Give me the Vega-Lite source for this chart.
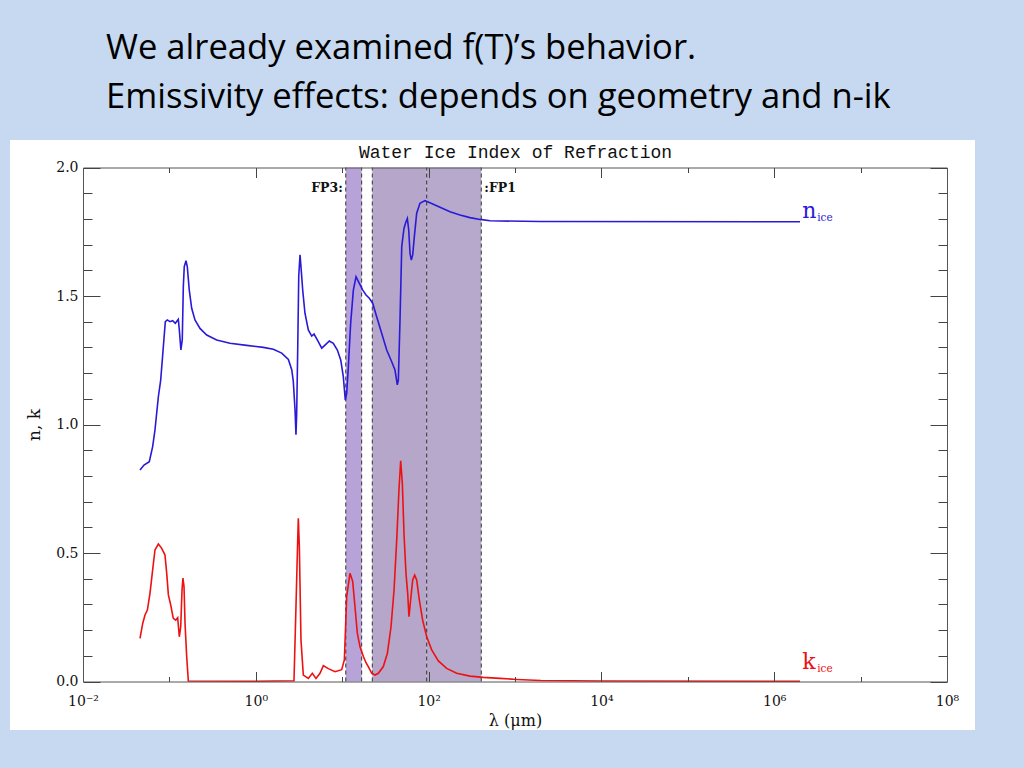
{
  "$schema": "https://vega.github.io/schema/vega-lite/v6.json",
  "width": 965,
  "height": 590,
  "autosize": "none",
  "padding": {"left": 10, "top": 140, "right": 49, "bottom": 38},
  "background": "#c6d9f1",
  "title": {
    "text": ["We already examined f(T)’s behavior.", "Emissivity effects: depends on geometry and n-ik"],
    "anchor": "start",
    "frame": "group",
    "orient": "top",
    "dx": 96,
    "offset": 24,
    "font": "Open Sans",
    "fontSize": 34.6,
    "fontWeight": "normal",
    "color": "#000000",
    "lineHeight": 49
  },
  "config": {
    "view": {"fill": "white", "stroke": null},
    "axis": {
      "grid": false,
      "labelFont": "DejaVu Serif",
      "titleFont": "DejaVu Serif",
      "labelColor": "#111111",
      "titleColor": "#111111",
      "titleFontWeight": "normal",
      "tickColor": "#444444",
      "domainColor": "#555555",
      "labelFlush": false,
      "labelOverlap": false,
      "labelAngle": 0
    }
  },
  "datasets": {
    "bands": [
      {"band": "FP3", "lo": 11.0, "hi": 16.8},
      {"band": "FP1a", "lo": 22.3, "hi": 95},
      {"band": "FP1b", "lo": 95, "hi": 407}
    ],
    "edges": [
      {"edge": 11.0}, {"edge": 16.8}, {"edge": 22.3}, {"edge": 95}, {"edge": 407}
    ],
    "fplabels": [
      {"label": "FP3:", "lam": 11.0, "v": 1.92, "side": "left"},
      {"label": ":FP1", "lam": 407, "v": 1.92, "side": "right"}
    ],
    "curvelabels": [
      {"series": "n", "sym": "n", "sub": "ice", "lam": 2000000, "v": 1.8035},
      {"series": "k", "sym": "k", "sub": "ice", "lam": 2000000, "v": 0.0486}
    ],
    "curves": [
      {"series": "n", "lam": 0.0457, "v": 0.823},
      {"series": "n", "lam": 0.0508, "v": 0.842},
      {"series": "n", "lam": 0.0585, "v": 0.855},
      {"series": "n", "lam": 0.0640, "v": 0.914},
      {"series": "n", "lam": 0.0681, "v": 0.979},
      {"series": "n", "lam": 0.0745, "v": 1.108},
      {"series": "n", "lam": 0.0793, "v": 1.173},
      {"series": "n", "lam": 0.0851, "v": 1.303},
      {"series": "n", "lam": 0.0897, "v": 1.400},
      {"series": "n", "lam": 0.0946, "v": 1.407},
      {"series": "n", "lam": 0.1016, "v": 1.400},
      {"series": "n", "lam": 0.1091, "v": 1.404},
      {"series": "n", "lam": 0.1169, "v": 1.394},
      {"series": "n", "lam": 0.1268, "v": 1.409},
      {"series": "n", "lam": 0.1303, "v": 1.368},
      {"series": "n", "lam": 0.1358, "v": 1.290},
      {"series": "n", "lam": 0.1409, "v": 1.329},
      {"series": "n", "lam": 0.1449, "v": 1.536},
      {"series": "n", "lam": 0.1486, "v": 1.614},
      {"series": "n", "lam": 0.1556, "v": 1.637},
      {"series": "n", "lam": 0.1611, "v": 1.614},
      {"series": "n", "lam": 0.1698, "v": 1.523},
      {"series": "n", "lam": 0.1811, "v": 1.452},
      {"series": "n", "lam": 0.1977, "v": 1.407},
      {"series": "n", "lam": 0.2259, "v": 1.374},
      {"series": "n", "lam": 0.2704, "v": 1.348},
      {"series": "n", "lam": 0.3524, "v": 1.329},
      {"series": "n", "lam": 0.5023, "v": 1.316},
      {"series": "n", "lam": 0.7852, "v": 1.308},
      {"series": "n", "lam": 1.222, "v": 1.300},
      {"series": "n", "lam": 1.596, "v": 1.293},
      {"series": "n", "lam": 1.995, "v": 1.278},
      {"series": "n", "lam": 2.382, "v": 1.253},
      {"series": "n", "lam": 2.606, "v": 1.213},
      {"series": "n", "lam": 2.716, "v": 1.168},
      {"series": "n", "lam": 2.844, "v": 1.058},
      {"series": "n", "lam": 2.917, "v": 0.960},
      {"series": "n", "lam": 2.972, "v": 1.040},
      {"series": "n", "lam": 3.055, "v": 1.290},
      {"series": "n", "lam": 3.141, "v": 1.578},
      {"series": "n", "lam": 3.251, "v": 1.660},
      {"series": "n", "lam": 3.334, "v": 1.614},
      {"series": "n", "lam": 3.491, "v": 1.523},
      {"series": "n", "lam": 3.707, "v": 1.433},
      {"series": "n", "lam": 4.055, "v": 1.368},
      {"series": "n", "lam": 4.436, "v": 1.344},
      {"series": "n", "lam": 4.721, "v": 1.352},
      {"series": "n", "lam": 5.152, "v": 1.329},
      {"series": "n", "lam": 5.794, "v": 1.297},
      {"series": "n", "lam": 6.324, "v": 1.309},
      {"series": "n", "lam": 7.096, "v": 1.325},
      {"series": "n", "lam": 7.889, "v": 1.316},
      {"series": "n", "lam": 8.790, "v": 1.290},
      {"series": "n", "lam": 9.616, "v": 1.251},
      {"series": "n", "lam": 10.30, "v": 1.186},
      {"series": "n", "lam": 10.86, "v": 1.095},
      {"series": "n", "lam": 11.27, "v": 1.121},
      {"series": "n", "lam": 11.78, "v": 1.225},
      {"series": "n", "lam": 12.53, "v": 1.394},
      {"series": "n", "lam": 13.46, "v": 1.523},
      {"series": "n", "lam": 14.45, "v": 1.575},
      {"series": "n", "lam": 15.78, "v": 1.549},
      {"series": "n", "lam": 17.30, "v": 1.523},
      {"series": "n", "lam": 18.88, "v": 1.504},
      {"series": "n", "lam": 20.61, "v": 1.491},
      {"series": "n", "lam": 22.54, "v": 1.472},
      {"series": "n", "lam": 25.06, "v": 1.419},
      {"series": "n", "lam": 28.64, "v": 1.355},
      {"series": "n", "lam": 32.73, "v": 1.290},
      {"series": "n", "lam": 37.41, "v": 1.244},
      {"series": "n", "lam": 40.83, "v": 1.212},
      {"series": "n", "lam": 43.45, "v": 1.154},
      {"series": "n", "lam": 44.67, "v": 1.173},
      {"series": "n", "lam": 46.67, "v": 1.407},
      {"series": "n", "lam": 48.87, "v": 1.692},
      {"series": "n", "lam": 51.88, "v": 1.763},
      {"series": "n", "lam": 54.70, "v": 1.789},
      {"series": "n", "lam": 56.75, "v": 1.802},
      {"series": "n", "lam": 58.88, "v": 1.757},
      {"series": "n", "lam": 60.95, "v": 1.666},
      {"series": "n", "lam": 63.10, "v": 1.640},
      {"series": "n", "lam": 65.46, "v": 1.660},
      {"series": "n", "lam": 68.39, "v": 1.731},
      {"series": "n", "lam": 72.78, "v": 1.822},
      {"series": "n", "lam": 79.43, "v": 1.861},
      {"series": "n", "lam": 90.78, "v": 1.871},
      {"series": "n", "lam": 103.7, "v": 1.863},
      {"series": "n", "lam": 135.5, "v": 1.845},
      {"series": "n", "lam": 177.0, "v": 1.828},
      {"series": "n", "lam": 230.7, "v": 1.815},
      {"series": "n", "lam": 301.3, "v": 1.805},
      {"series": "n", "lam": 393.6, "v": 1.798},
      {"series": "n", "lam": 514.0, "v": 1.793},
      {"series": "n", "lam": 669.9, "v": 1.792},
      {"series": "n", "lam": 1945, "v": 1.790},
      {"series": "n", "lam": 1990000, "v": 1.789},
      {"series": "k", "lam": 0.0457, "v": 0.168},
      {"series": "k", "lam": 0.0491, "v": 0.226},
      {"series": "k", "lam": 0.0522, "v": 0.259},
      {"series": "k", "lam": 0.0556, "v": 0.278},
      {"series": "k", "lam": 0.0596, "v": 0.343},
      {"series": "k", "lam": 0.0640, "v": 0.434},
      {"series": "k", "lam": 0.0681, "v": 0.512},
      {"series": "k", "lam": 0.0745, "v": 0.535},
      {"series": "k", "lam": 0.0815, "v": 0.518},
      {"series": "k", "lam": 0.0889, "v": 0.492},
      {"series": "k", "lam": 0.0931, "v": 0.421},
      {"series": "k", "lam": 0.0973, "v": 0.337},
      {"series": "k", "lam": 0.1035, "v": 0.298},
      {"series": "k", "lam": 0.1109, "v": 0.246},
      {"series": "k", "lam": 0.1183, "v": 0.239},
      {"series": "k", "lam": 0.1247, "v": 0.248},
      {"series": "k", "lam": 0.1303, "v": 0.174},
      {"series": "k", "lam": 0.1352, "v": 0.213},
      {"series": "k", "lam": 0.1400, "v": 0.356},
      {"series": "k", "lam": 0.1435, "v": 0.402},
      {"series": "k", "lam": 0.1476, "v": 0.369},
      {"series": "k", "lam": 0.1517, "v": 0.226},
      {"series": "k", "lam": 0.1585, "v": 0.097},
      {"series": "k", "lam": 0.1656, "v": 0.002},
      {"series": "k", "lam": 1.0, "v": 0.001},
      {"series": "k", "lam": 2.767, "v": 0.003},
      {"series": "k", "lam": 2.917, "v": 0.291},
      {"series": "k", "lam": 3.027, "v": 0.500},
      {"series": "k", "lam": 3.105, "v": 0.635},
      {"series": "k", "lam": 3.192, "v": 0.525},
      {"series": "k", "lam": 3.334, "v": 0.161},
      {"series": "k", "lam": 3.548, "v": 0.025},
      {"series": "k", "lam": 4.055, "v": 0.012},
      {"series": "k", "lam": 4.508, "v": 0.032},
      {"series": "k", "lam": 4.977, "v": 0.012},
      {"series": "k", "lam": 5.534, "v": 0.032},
      {"series": "k", "lam": 6.053, "v": 0.062},
      {"series": "k", "lam": 6.902, "v": 0.050},
      {"series": "k", "lam": 8.260, "v": 0.038},
      {"series": "k", "lam": 9.863, "v": 0.046},
      {"series": "k", "lam": 10.59, "v": 0.084},
      {"series": "k", "lam": 11.27, "v": 0.330},
      {"series": "k", "lam": 12.30, "v": 0.421},
      {"series": "k", "lam": 13.21, "v": 0.390},
      {"series": "k", "lam": 14.06, "v": 0.291},
      {"series": "k", "lam": 14.96, "v": 0.188},
      {"series": "k", "lam": 16.07, "v": 0.135},
      {"series": "k", "lam": 17.58, "v": 0.097},
      {"series": "k", "lam": 18.88, "v": 0.073},
      {"series": "k", "lam": 20.04, "v": 0.058},
      {"series": "k", "lam": 21.93, "v": 0.032},
      {"series": "k", "lam": 23.99, "v": 0.025},
      {"series": "k", "lam": 26.18, "v": 0.032},
      {"series": "k", "lam": 29.92, "v": 0.058},
      {"series": "k", "lam": 33.34, "v": 0.110},
      {"series": "k", "lam": 36.73, "v": 0.213},
      {"series": "k", "lam": 39.81, "v": 0.356},
      {"series": "k", "lam": 42.76, "v": 0.551},
      {"series": "k", "lam": 45.39, "v": 0.745},
      {"series": "k", "lam": 47.53, "v": 0.859},
      {"series": "k", "lam": 49.66, "v": 0.771},
      {"series": "k", "lam": 51.88, "v": 0.577},
      {"series": "k", "lam": 54.70, "v": 0.421},
      {"series": "k", "lam": 57.28, "v": 0.343},
      {"series": "k", "lam": 59.29, "v": 0.252},
      {"series": "k", "lam": 61.94, "v": 0.317},
      {"series": "k", "lam": 65.46, "v": 0.395},
      {"series": "k", "lam": 69.02, "v": 0.414},
      {"series": "k", "lam": 72.78, "v": 0.395},
      {"series": "k", "lam": 78.16, "v": 0.317},
      {"series": "k", "lam": 85.31, "v": 0.239},
      {"series": "k", "lam": 95.06, "v": 0.174},
      {"series": "k", "lam": 108.6, "v": 0.123},
      {"series": "k", "lam": 129.7, "v": 0.080},
      {"series": "k", "lam": 161.8, "v": 0.051},
      {"series": "k", "lam": 211.3, "v": 0.032},
      {"series": "k", "lam": 301.3, "v": 0.021},
      {"series": "k", "lam": 429.5, "v": 0.016},
      {"series": "k", "lam": 669.9, "v": 0.012},
      {"series": "k", "lam": 1045, "v": 0.008},
      {"series": "k", "lam": 1995, "v": 0.004},
      {"series": "k", "lam": 10000, "v": 0.002},
      {"series": "k", "lam": 1990000, "v": 0.001}
    ]
  },
  "resolve": {"axis": {"x": "independent", "y": "independent"}, "scale": {"color": "independent"}},
  "layer": [
    {
      "data": {"name": "bands"},
      "mark": {"type": "rect", "opacity": 1},
      "encoding": {
        "x": {"field": "lo", "type": "quantitative",
          "scale": {"type": "log", "domain": [0.01, 100000000], "range": [73, 937], "nice": false},
          "axis": {"orient": "bottom", "offset": -48.5, "ticks": false, "tickSize": 0, "domain": false,
            "values": [0.01, 1, 100, 10000, 1000000, 100000000], "labelPadding": 13, "labelFontSize": 14,
            "labelExpr": "datum.value < 0.1 ? '10⁻²' : datum.value < 10 ? '10⁰' : datum.value < 1000 ? '10²' : datum.value < 100000 ? '10⁴' : datum.value < 10000000 ? '10⁶' : '10⁸'",
            "title": "λ (μm)", "titleFontSize": 16, "titlePadding": 4}},
        "x2": {"field": "hi"},
        "y": {"datum": 0, "type": "quantitative",
          "scale": {"domain": [0, 2], "range": [541.5, 27.5], "nice": false, "zero": false},
          "axis": {"orient": "left", "offset": -73, "ticks": false, "tickSize": 0, "domain": false,
            "values": [0, 0.5, 1, 1.5, 2], "format": ".1f", "labelPadding": 5, "labelFontSize": 14,
            "title": "n, k", "titleFontSize": 17, "titlePadding": 12}},
        "y2": {"datum": 2},
        "color": {"field": "band", "type": "nominal",
          "scale": {"domain": ["FP3", "FP1a", "FP1b"], "range": ["#b8a3d8", "#b5a6ca", "#b7a9cc"]}, "legend": null}
      }
    },
    {
      "data": {"name": "edges"},
      "mark": {"type": "rule", "color": "#333333", "strokeWidth": 1, "strokeDash": [4, 3]},
      "encoding": {
        "x": {"field": "edge", "type": "quantitative",
          "axis": {"orient": "top", "offset": -27.5, "labels": false, "tickSize": -10, "domain": true, "zindex": 1,
            "values": [0.01, 1, 100, 10000, 1000000, 100000000],
            "title": "Water Ice Index of Refraction", "titleFont": "Liberation Mono", "titleFontSize": 18, "titlePadding": 6}},
        "y": {"datum": 0, "type": "quantitative",
          "axis": {"orient": "right", "offset": -28, "labels": false, "tickSize": -17, "domain": true, "zindex": 1,
            "values": [0, 0.5, 1, 1.5, 2], "title": null}},
        "y2": {"datum": 2}
      }
    },
    {
      "data": {"name": "fplabels"},
      "transform": [{"filter": "datum.side == 'left'"}],
      "mark": {"type": "text", "align": "right", "baseline": "middle", "dx": -3, "font": "DejaVu Serif", "fontSize": 12.5, "fontWeight": "bold", "color": "#111111"},
      "encoding": {
        "x": {"field": "lam", "type": "quantitative",
          "axis": {"orient": "top", "offset": -27.5, "labels": false, "tickSize": -5, "domain": false, "zindex": 1,
            "values": [0.1, 10, 1000, 100000, 10000000], "title": null}},
        "y": {"field": "v", "type": "quantitative",
          "axis": {"orient": "right", "offset": -28, "labels": false, "tickSize": -9, "domain": false, "zindex": 1,
            "values": [0.1, 0.2, 0.3, 0.4, 0.6, 0.7, 0.8, 0.9, 1.1, 1.2, 1.3, 1.4, 1.6, 1.7, 1.8, 1.9], "title": null}},
        "text": {"field": "label"}
      }
    },
    {
      "data": {"name": "fplabels"},
      "transform": [{"filter": "datum.side == 'right'"}],
      "mark": {"type": "text", "align": "left", "baseline": "middle", "dx": 3, "font": "DejaVu Serif", "fontSize": 12.5, "fontWeight": "bold", "color": "#111111"},
      "encoding": {
        "x": {"field": "lam", "type": "quantitative",
          "axis": {"orient": "bottom", "offset": -48.5, "labels": false, "tickSize": -5, "domain": false, "zindex": 1,
            "values": [0.1, 10, 1000, 100000, 10000000], "title": null}},
        "y": {"field": "v", "type": "quantitative",
          "axis": {"orient": "left", "offset": -73, "labels": false, "tickSize": -9, "domain": false, "zindex": 1,
            "values": [0.1, 0.2, 0.3, 0.4, 0.6, 0.7, 0.8, 0.9, 1.1, 1.2, 1.3, 1.4, 1.6, 1.7, 1.8, 1.9], "title": null}},
        "text": {"field": "label"}
      }
    },
    {
      "data": {"name": "curves"},
      "mark": {"type": "line", "strokeWidth": 1.6, "interpolate": "linear"},
      "encoding": {
        "x": {"field": "lam", "type": "quantitative",
          "axis": {"orient": "bottom", "offset": -48.5, "labels": false, "tickSize": -10, "domain": true, "zindex": 1,
            "values": [0.01, 1, 100, 10000, 1000000, 100000000], "title": null}},
        "y": {"field": "v", "type": "quantitative",
          "axis": {"orient": "left", "offset": -73, "labels": false, "tickSize": -17, "domain": true, "zindex": 1,
            "values": [0, 0.5, 1, 1.5, 2], "title": null}},
        "color": {"field": "series", "type": "nominal",
          "scale": {"domain": ["n", "k"], "range": ["#2a1ad8", "#ee1111"]}, "legend": null},
        "detail": {"field": "series"}
      }
    },
    {
      "data": {"name": "curvelabels"},
      "mark": {"type": "text", "align": "left", "baseline": "alphabetic", "dx": 2, "font": "DejaVu Serif", "fontSize": 22},
      "encoding": {
        "x": {"field": "lam", "type": "quantitative", "axis": null},
        "y": {"field": "v", "type": "quantitative", "axis": null},
        "color": {"field": "series", "type": "nominal",
          "scale": {"domain": ["n", "k"], "range": ["#2a1ad8", "#ee1111"]}, "legend": null},
        "text": {"field": "sym"}
      }
    },
    {
      "data": {"name": "curvelabels"},
      "mark": {"type": "text", "align": "left", "baseline": "alphabetic", "dx": 17, "dy": 2.5, "font": "DejaVu Serif", "fontSize": 10.5},
      "encoding": {
        "x": {"field": "lam", "type": "quantitative", "axis": null},
        "y": {"field": "v", "type": "quantitative", "axis": null},
        "color": {"field": "series", "type": "nominal",
          "scale": {"domain": ["n", "k"], "range": ["#2a1ad8", "#ee1111"]}, "legend": null},
        "text": {"field": "sub"}
      }
    }
  ]
}
